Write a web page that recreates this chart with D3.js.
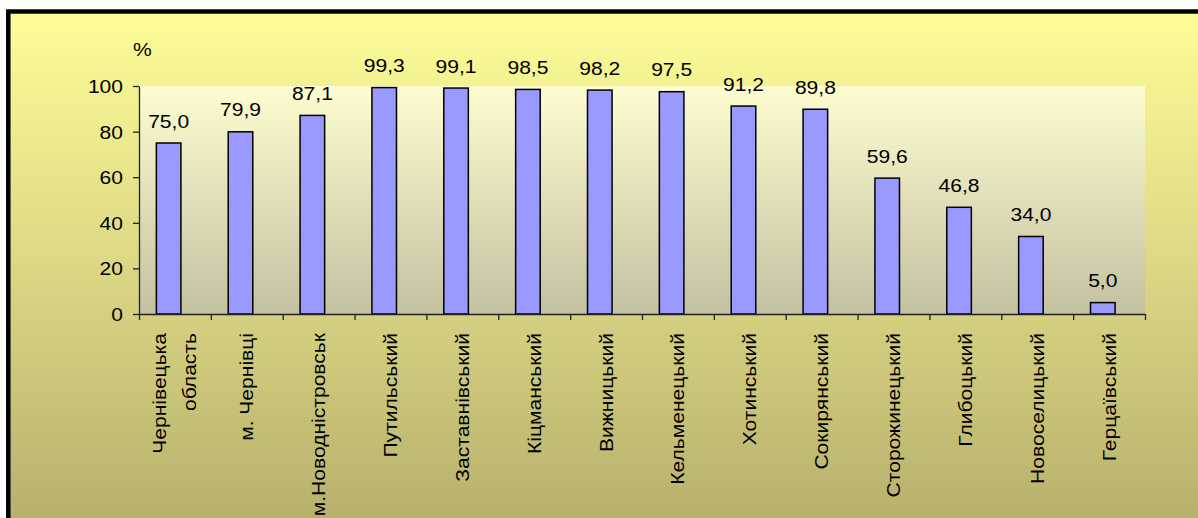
<!DOCTYPE html>
<html>
<head>
<meta charset="utf-8">
<script src="https://cdn.jsdelivr.net/npm/d3@7"></script>
<style>
  html, body { margin: 0; padding: 0; background: #fff; overflow: hidden; }
  svg { display: block; font-family: "Liberation Sans", Arial, sans-serif; }
</style>
</head>
<body>
<svg id="chart" width="1198" height="518"></svg>
<script>
// category labels (multi-line labels split with "|")
var categories = ['Чернівецька|область', 'м. Чернівці', 'м.Новодністровськ', 'Путильський',
  'Заставнівський', 'Кіцманський', 'Вижницький', 'Кельменецький', 'Хотинський',
  'Сокирянський', 'Сторожинецький', 'Глибоцький', 'Новоселицький', 'Герцаївський'];
var values = [75.0, 79.9, 87.1, 99.3, 99.1, 98.5, 98.2, 97.5, 91.2, 89.8, 59.6, 46.8, 34.0, 5.0];
var yTicks = [0, 20, 40, 60, 80, 100];

var svg = d3.select('#chart');
var W = 1198, H = 518;
var plot = { left: 139, right: 1145, top: 86, bottom: 314 };
var fontSize = '18px';
var stretch = 1.17; // glyphs in the reference are wider than Liberation Sans

var defs = svg.append('defs');
var g1 = defs.append('linearGradient').attr('id', 'outerBg')
  .attr('x1', 0).attr('y1', 0).attr('x2', 0).attr('y2', 1);
g1.append('stop').attr('offset', '0%').attr('stop-color', '#fdfd98');
g1.append('stop').attr('offset', '55%').attr('stop-color', '#d6d181');
g1.append('stop').attr('offset', '100%').attr('stop-color', '#b3ac6a');

var g2 = defs.append('linearGradient').attr('id', 'plotBg')
  .attr('x1', 0).attr('y1', 0).attr('x2', 0).attr('y2', 1);
g2.append('stop').attr('offset', '0%').attr('stop-color', '#fdfdd0');
g2.append('stop').attr('offset', '100%').attr('stop-color', '#c3c1a0');

// chart frame (runs off the right and bottom edges)
svg.append('rect')
  .attr('x', 8.3).attr('y', 11.5)
  .attr('width', W + 20).attr('height', H + 20)
  .attr('fill', 'url(#outerBg)')
  .attr('stroke', '#000').attr('stroke-width', 4.5);

var x = d3.scaleBand().domain(d3.range(categories.length))
  .range([plot.left, plot.right]).padding(0);
var y = d3.scaleLinear().domain([0, 100]).range([plot.bottom, plot.top]);

svg.append('rect')
  .attr('x', plot.left).attr('y', plot.top)
  .attr('width', plot.right - plot.left).attr('height', plot.bottom - plot.top)
  .attr('fill', 'url(#plotBg)');

// bars: first of three slots in each category
var slot = x.bandwidth() / 6;
svg.selectAll('.bar')
  .data(values)
  .enter()
  .append('rect')
  .attr('class', 'bar')
  .attr('x', function(d, i) { return x(i) + slot * 1.5 - 0.6; })
  .attr('y', function(d) { return y(d); })
  .attr('width', slot * 2 + 0.6)
  .attr('height', function(d) { return y(0) - y(d); })
  .attr('fill', '#9999ff')
  .attr('stroke', '#000')
  .attr('stroke-width', 1.5);

// value labels
svg.selectAll('.val')
  .data(values)
  .enter()
  .append('text')
  .attr('class', 'val')
  .attr('transform', function(d, i) {
    return 'translate(' + (x(i) + slot * 2.5 - 0.3) + ',' + (y(d) - 15.5) + ') scale(' + stretch + ',1)';
  })
  .attr('text-anchor', 'middle')
  .attr('font-size', fontSize)
  .attr('fill', '#000')
  .text(function(d) { return d.toFixed(1).replace('.', ','); });

// y axis
var yAxis = d3.axisLeft(y).tickValues(yTicks).tickSize(6).tickSizeOuter(0);
var ya = svg.append('g').attr('transform', 'translate(' + plot.left + ',0)').call(yAxis);
ya.select('.domain').attr('stroke', '#222').attr('stroke-width', 1.3);
ya.selectAll('.tick line').attr('stroke', '#222').attr('stroke-width', 1.3);
ya.selectAll('.tick text')
  .attr('font-size', fontSize).attr('fill', '#000')
  .attr('font-family', '"Liberation Sans", Arial, sans-serif')
  .attr('x', null).attr('dy', '0.36em')
  .attr('transform', 'translate(-16,0) scale(' + stretch + ',1)');

// x axis: ticks at band boundaries
var xEdge = d3.scaleLinear().domain([0, categories.length]).range([plot.left, plot.right]);
var xAxis = d3.axisBottom(xEdge).tickValues(d3.range(categories.length + 1))
  .tickSize(6).tickSizeOuter(0).tickFormat('');
var xa = svg.append('g').attr('transform', 'translate(0,' + plot.bottom + ')').call(xAxis);
xa.select('.domain').attr('stroke', '#222').attr('stroke-width', 1.3);
xa.selectAll('.tick line').attr('stroke', '#222').attr('stroke-width', 1.3);

// category labels, rotated
var labelTop = 333;
categories.forEach(function(c, i) {
  var lines = c.split('|');
  var cx = x(i) + x.bandwidth() / 2;
  lines.forEach(function(line, j) {
    var lx = cx + (j - (lines.length - 1) / 2) * 30 + 6.5;
    svg.append('text')
      .attr('transform', 'translate(' + lx + ',' + labelTop + ') rotate(-90) scale(' + stretch + ',1)')
      .attr('text-anchor', 'end')
      .attr('font-size', fontSize)
      .attr('fill', '#000')
      .text(line);
  });
});

// unit label
svg.append('text')
  .attr('transform', 'translate(133,56) scale(' + stretch + ',1)')
  .attr('font-size', fontSize)
  .attr('fill', '#000')
  .text('%');
</script>
</body>
</html>
